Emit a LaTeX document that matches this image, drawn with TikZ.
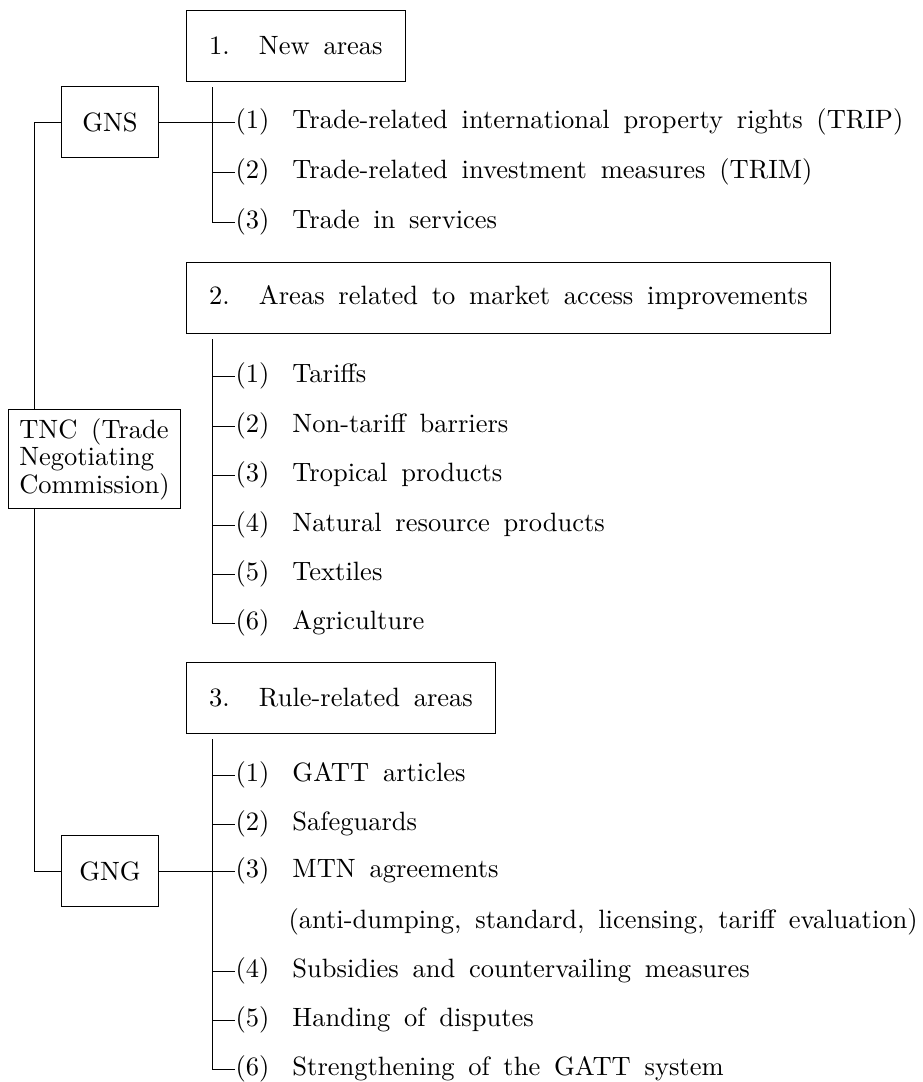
\documentclass[tikz,border=0pt]{standalone}
\usepackage{tikz}

\newcommand{\nodefont}{\fontsize{10.6}{9.6}\selectfont\spaceskip=0.52em\relax}
\tikzset{
  txt/.style={font=\nodefont},
  areabox/.style={txt,draw,anchor=north west,minimum height=28.4pt,inner xsep=9pt},
  grpbox/.style={txt,draw,minimum width=38.4pt,minimum height=28.4pt},
  item/.style={txt,anchor=west,inner sep=0pt}
}
\newcommand{\itnum}[1]{\makebox[22.8pt][l]{#1}}
\newcommand{\hdnum}[1]{\makebox[20pt][l]{#1}}

\begin{document}
\begin{tikzpicture}[x=0.4pt,y=-0.4pt,line width=0.4pt]
\useasboundingbox (0,0) rectangle (922,1082);
\coordinate (bx) at (212,0); \coordinate (trunk) at (34,0);
% negotiating bodies
\node[grpbox] (gns) at (110,122) {GNS};
\node[grpbox] (gng) at (110,871) {GNG};
\node[txt,draw,align=left,minimum width=68.4pt,minimum height=38.4pt,inner xsep=1pt] (tnc) at (94.5,459)
  {TNC (Trade\\Negotiating\\Commission)};
\draw (gns.west) -| (tnc.north -| trunk); \draw (tnc.south -| trunk) |- (gng.west);
% 1. new areas
\node[areabox] (a1) at (186,10) {\hdnum{1.}New areas};
\node[item] (a1i1) at (235,122) {\itnum{(1)}Trade-related international property rights (TRIP)};
\node[item] (a1i2) at (235,172) {\itnum{(2)}Trade-related investment measures (TRIM)};
\node[item] (a1i3) at (235,222) {\itnum{(3)}Trade in services};
\draw (a1.south -| bx) ++(0,5) |- (a1i3.west); \draw (a1i1.west -| bx) -- (a1i1.west);
\draw (a1i2.west -| bx) -- (a1i2.west); \draw (gns.east) -- (gns.east -| bx);
% 2. market access
\node[areabox] (a2) at (186,262) {\hdnum{2.}Areas related to market access improvements};
\node[item] (a2i1) at (235,376) {\itnum{(1)}Tariffs};
\node[item] (a2i2) at (235,426) {\itnum{(2)}Non-tariff barriers};
\node[item] (a2i3) at (235,475) {\itnum{(3)}Tropical products};
\node[item] (a2i4) at (235,525) {\itnum{(4)}Natural resource products};
\node[item] (a2i5) at (235,574) {\itnum{(5)}Textiles};
\node[item] (a2i6) at (235,623) {\itnum{(6)}Agriculture};
\draw (a2.south -| bx) ++(0,5) |- (a2i6.west); \draw (a2i1.west -| bx) -- (a2i1.west);
\draw (a2i2.west -| bx) -- (a2i2.west); \draw (a2i3.west -| bx) -- (a2i3.west);
\draw (a2i4.west -| bx) -- (a2i4.west); \draw (a2i5.west -| bx) -- (a2i5.west);
% 3. rules
\node[areabox] (a3) at (186,662) {\hdnum{3.}Rule-related areas};
\node[item] (a3i1) at (235,775) {\itnum{(1)}GATT articles};
\node[item] (a3i2) at (235,824) {\itnum{(2)}Safeguards};
\node[item] (a3i3) at (235,871) {\itnum{(3)}MTN agreements};
\node[item] (a3i3b) at (288,922) {(anti-dumping, standard, licensing, tariff evaluation)};
\node[item] (a3i4) at (235,971) {\itnum{(4)}Subsidies and countervailing measures};
\node[item] (a3i5) at (235,1020) {\itnum{(5)}Handing of disputes};
\node[item] (a3i6) at (235,1069) {\itnum{(6)}Strengthening of the GATT system};
\draw (a3.south -| bx) ++(0,5) |- (a3i6.west); \draw (a3i1.west -| bx) -- (a3i1.west);
\draw (a3i2.west -| bx) -- (a3i2.west); \draw (a3i3.west -| bx) -- (a3i3.west);
\draw (a3i4.west -| bx) -- (a3i4.west); \draw (a3i5.west -| bx) -- (a3i5.west);
\draw (gng.east) -- (gng.east -| bx);
\end{tikzpicture}
\end{document}
